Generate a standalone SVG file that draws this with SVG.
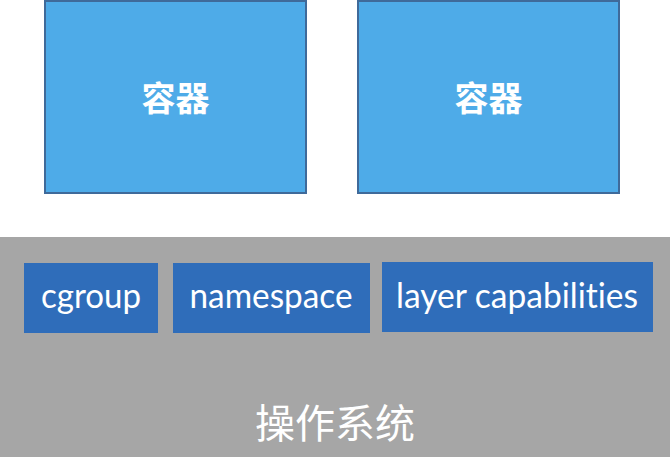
<svg xmlns="http://www.w3.org/2000/svg" width="670" height="472" viewBox="0 0 670 472">
<style>
.container{fill:#4EABE8;stroke:#3F6A9A;stroke-width:2}
.mod{fill:#2F6DBA}
.cjk{font-family:"Noto Sans CJK SC","Noto Sans",sans-serif;fill:#FFFFFF;text-anchor:middle}
.lbl{font-family:Lato,"Liberation Sans",sans-serif;fill:#FFFFFF;text-anchor:middle;font-size:35px;font-variant-ligatures:none;font-feature-settings:"liga" 0,"clig" 0}
</style>
<rect x="0" y="0" width="670" height="472" fill="#FFFFFF"/>
<g id="os">
<rect x="0" y="237" width="670" height="220" fill="#A6A6A6"/>
<text class="cjk" x="335" y="438" font-size="40">操作系统</text>
</g>
<g id="container1">
<rect class="container" x="45" y="1" width="261" height="192"/>
<text class="cjk" x="175.5" y="111" font-size="34" font-weight="bold">容器</text>
</g>
<g id="container2">
<rect class="container" x="358" y="1" width="261" height="192"/>
<text class="cjk" x="488.5" y="111" font-size="34" font-weight="bold">容器</text>
</g>
<g id="cgroup">
<rect class="mod" x="24" y="263" width="134" height="70"/>
<text class="lbl" x="91" y="308" textLength="100" lengthAdjust="spacingAndGlyphs">cgroup</text>
</g>
<g id="namespace">
<rect class="mod" x="173" y="263" width="197" height="70"/>
<text class="lbl" x="271" y="308" textLength="163" lengthAdjust="spacingAndGlyphs">namespace</text>
</g>
<g id="layer-capabilities">
<rect class="mod" x="382" y="262" width="271" height="70"/>
<text class="lbl" x="517" y="308" textLength="242" lengthAdjust="spacingAndGlyphs">layer capabilities</text>
</g>
<g id="connectors"></g>
</svg>
